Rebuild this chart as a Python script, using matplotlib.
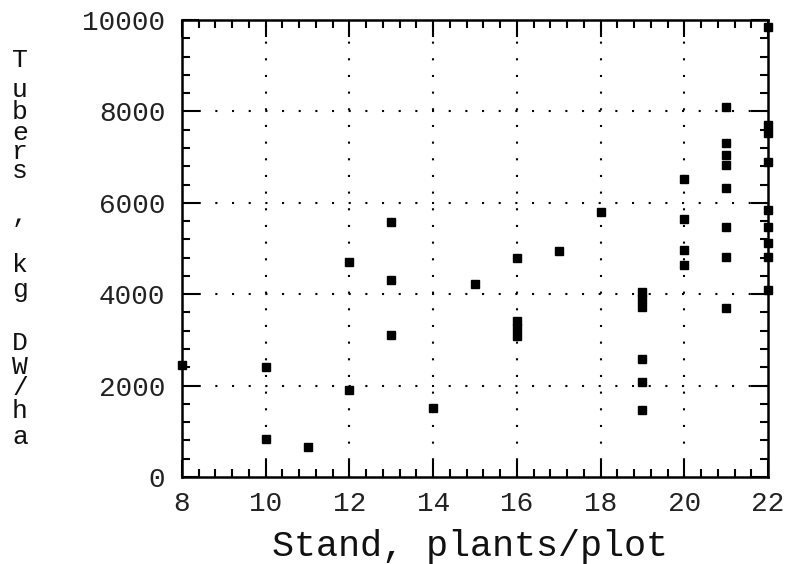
import matplotlib
matplotlib.use("Agg")
import matplotlib.pyplot as plt
from matplotlib.ticker import MultipleLocator

# Data
stand = [8,
         10, 10,
         11,
         12, 12,
         13, 13, 13,
         14,
         15,
         16, 16, 16, 16,
         17,
         18,
         19, 19, 19, 19, 19, 19,
         20, 20, 20, 20,
         21, 21, 21, 21, 21, 21, 21, 21,
         22, 22, 22, 22, 22, 22, 22, 22, 22]
tubers = [2450,
          2400, 830,
          650,
          4700, 1900,
          5580, 4300, 3100,
          1500,
          4220,
          4800, 3420, 3250, 3080,
          4950,
          5800,
          4050, 3900, 3720, 2580, 2080, 1470,
          6520, 5640, 4970, 4640,
          8100, 7310, 7050, 6830, 6320, 5470, 4810, 3700,
          9850, 7700, 7530, 6890, 5840, 5470, 5120, 4810, 4090]

x_ticks = [8, 10, 12, 14, 16, 18, 20, 22]
y_ticks = [0, 2000, 4000, 6000, 8000, 10000]
x_label = "Stand, plants/plot"
y_label = "Tubers, kg DW/ha"

FONT = "Liberation Mono"
W, H = 792, 564
fig = plt.figure(figsize=(W / 100, H / 100), dpi=100)
ax = fig.add_axes([182 / W, 1 - 477 / H, (768 - 182) / W, (477 - 20) / H])

ax.plot(stand, tubers, linestyle="none", marker="s", markersize=5.5,
        color="black", clip_on=False, zorder=3)

ax.set_xlim(8, 22)
ax.set_ylim(0, 10000)
ax.set_xticks(x_ticks)
ax.set_yticks(y_ticks)
ax.xaxis.set_minor_locator(MultipleLocator(0.4))
ax.yaxis.set_minor_locator(MultipleLocator(400))
ax.tick_params(which="both", direction="in", top=True, right=True,
               width=1.5, color="black")
ax.tick_params(which="major", length=12)
ax.tick_params(which="minor", length=6)
ax.tick_params(axis="x", which="major", pad=10)
ax.tick_params(axis="y", which="major", pad=12)
for lab in ax.get_xticklabels() + ax.get_yticklabels():
    lab.set_fontfamily(FONT)
    lab.set_fontsize(20)
    lab.set_color("#222222")

for s in ax.spines.values():
    s.set_linewidth(1.8)

# dotted grid at interior major ticks
for xv in x_ticks[1:-1]:
    ax.axvline(xv, color="black", linewidth=1.5, linestyle=(0, (1, 7)), zorder=1)
for yv in y_ticks[1:-1]:
    ax.axhline(yv, color="black", linewidth=1.5, linestyle=(0, (1, 7)), zorder=1)

fig.text(470 / W, 1 - 547 / H, x_label, family=FONT, fontsize=26.5,
         ha="center", va="center", color="#111111")

# vertical stacked y label, one character per line
ys = [60, 90, 112, 133, 152, 171, 215, None, 265, 290, None, 343, 367, 388, 411, 437]
chars = [c for c in y_label]
for c, yy in zip(chars, ys):
    if yy is None or c == " ":
        continue
    fig.text(20 / W, 1 - yy / H, c, family=FONT, fontsize=19,
             ha="center", va="center", color="#111111")

fig.savefig("out.png", dpi=100)
